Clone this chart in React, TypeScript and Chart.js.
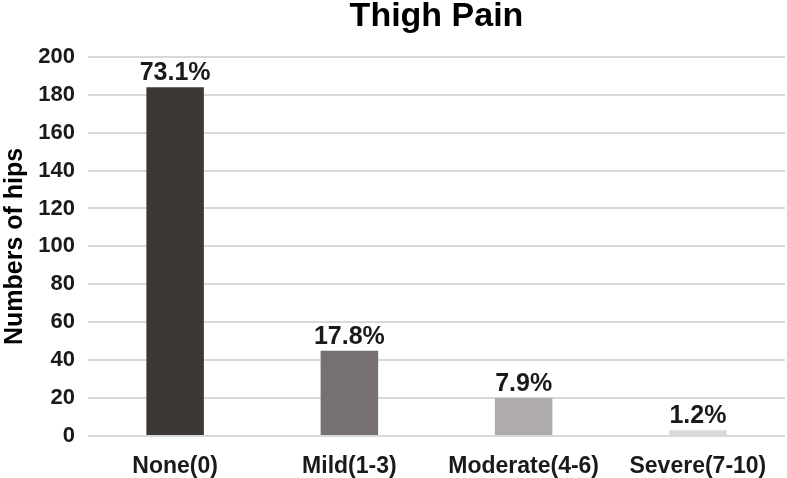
import { useEffect, useRef } from "react";
import { Chart, registerables } from "chart.js";

Chart.register(...registerables);

const categories = ["None(0)", "Mild(1-3)", "Moderate(4-6)", "Severe(7-10)"];
const hips = [184, 45, 20, 3];
const percentLabels = ["73.1%", "17.8%", "7.9%", "1.2%"];
const barColors = ["#3d3735", "#767170", "#afabab", "#d9d9d9"];
const yTicks = [0, 20, 40, 60, 80, 100, 120, 140, 160, 180, 200];

const FONT = "'Liberation Sans', Arial, sans-serif";

const percentPlugin = {
  id: "percentLabels",
  afterDatasetsDraw(chart: Chart) {
    const { ctx } = chart;
    const meta = chart.getDatasetMeta(0);
    ctx.save();
    ctx.font = `bold 25px ${FONT}`;
    ctx.fillStyle = "#1a1a1a";
    ctx.textAlign = "center";
    ctx.textBaseline = "alphabetic";
    meta.data.forEach((bar: any, i: number) => {
      ctx.fillText(percentLabels[i], bar.x, bar.y - 7);
    });
    ctx.restore();
  },
};

export default function App() {
  const canvasRef = useRef<HTMLCanvasElement | null>(null);

  useEffect(() => {
    if (!canvasRef.current) return;
    const chart = new Chart(canvasRef.current, {
      type: "bar",
      data: {
        labels: categories,
        datasets: [
          {
            data: hips,
            backgroundColor: barColors,
            barPercentage: 0.33,
            categoryPercentage: 1,
          },
        ],
      },
      options: {
        animation: false,
        responsive: false,
        layout: { padding: { left: 0, right: 2, top: 0, bottom: 0 } },
        plugins: {
          legend: { display: false },
          tooltip: { enabled: false },
          title: {
            display: true,
            text: "Thigh Pain",
            fullSize: false,
            color: "#000",
            font: { family: FONT, size: 34, weight: "bold" },
            padding: { top: -4, bottom: 20 },
          },
        },
        scales: {
          x: {
            grid: { display: false },
            border: { display: false },
            afterFit: (axis: any) => {
              axis.height = 42;
            },
            ticks: {
              color: "#1a1a1a",
              font: { family: FONT, size: 23, weight: "bold" },
              padding: 9,
            },
          },
          y: {
            min: 0,
            max: 200,
            afterBuildTicks: (axis: any) => {
              axis.ticks = yTicks.map((v) => ({ value: v }));
            },
            afterFit: (axis: any) => {
              axis.width = 88;
            },
            grid: { color: "#d9d9d9", lineWidth: 2, drawTicks: false },
            border: { display: false },
            ticks: {
              color: "#1a1a1a",
              font: { family: FONT, size: 22, weight: "bold" },
              padding: 13,
            },
            title: {
              display: true,
              text: "Numbers of hips",
              color: "#000",
              font: { family: FONT, size: 25, weight: "bold" },
              padding: { top: 0, bottom: 2 },
            },
          },
        },
      },
      plugins: [percentPlugin],
    });
    return () => chart.destroy();
  }, []);

  return (
    <div style={{ position: "fixed", left: 0, top: 0, width: 787, height: 478, background: "#fff" }}>
      <canvas ref={canvasRef} width={787} height={478} style={{ width: 787, height: 478 }} />
    </div>
  );
}
